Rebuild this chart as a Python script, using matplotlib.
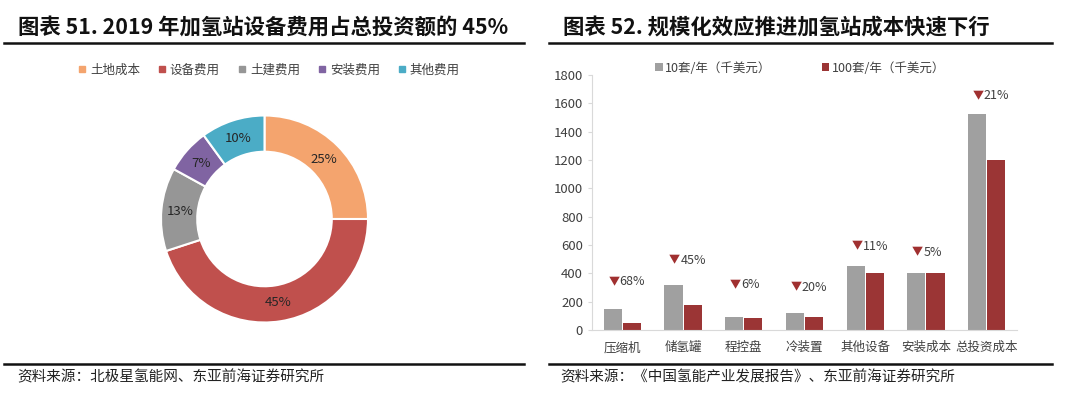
import matplotlib
matplotlib.use('Agg')
import matplotlib.pyplot as plt
import numpy as np
from matplotlib.lines import Line2D

plt.rcParams['font.family'] = ['Noto Sans CJK SC', 'DejaVu Sans']

# left: cost share of a hydrogen station (2019)
pie_labels = ['土地成本', '设备费用', '土建费用', '安装费用', '其他费用']
pie_values = [25, 45, 13, 7, 10]
pie_colors = ['#f4a46e', '#c0504d', '#969696', '#8064a2', '#4bacc6']

# right: cost at 10 vs 100 units/year (k USD)
bar_cats = ['压缩机', '储氢罐', '程控盘', '冷装置', '其他设备', '安装成本', '总投资成本']
cost_10 = [150, 320, 90, 118, 452, 405, 1525]
cost_100 = [48, 178, 85, 95, 400, 405, 1200]
drop_pct = ['68%', '45%', '6%', '20%', '11%', '5%', '21%']
drop_y = [340, 494, 318, 301, 588, 546, 1653]

W, H = 1080, 395
fig = plt.figure(figsize=(W / 100, H / 100), dpi=100)
fig.patch.set_facecolor('white')

def fx(px):
    return px / W

def fy(py):
    return 1 - py / H

# titles, rules, sources
fig.text(fx(18), fy(28), '图表 51. 2019 年加氢站设备费用占总投资额的 45%',
         fontsize=15.4, fontweight='bold', va='center', ha='left', color='#111111')
fig.text(fx(563), fy(28), '图表 52. 规模化效应推进加氢站成本快速下行',
         fontsize=15.4, fontweight='bold', va='center', ha='left', color='#111111')
for x0, x1 in [(4, 524), (549, 1052)]:
    for yy in (43, 364):
        fig.add_artist(Line2D([fx(x0), fx(x1)], [fy(yy), fy(yy)], color='#111111', lw=1.8))
fig.text(fx(17), fy(377), '资料来源：北极星氢能网、东亚前海证券研究所',
         fontsize=10.5, va='center', ha='left', color='#222222')
fig.text(fx(560), fy(377), '资料来源：《中国氢能产业发展报告》、东亚前海证券研究所',
         fontsize=10.5, va='center', ha='left', color='#222222')

# donut
cx, cy, r = 264.5, 219, 103.5
ax1 = fig.add_axes([fx(cx - r), fy(cy + r), (2 * r) / W, (2 * r) / H])
wedges, _ = ax1.pie(pie_values, colors=pie_colors, startangle=90, counterclock=False,
                    radius=1, wedgeprops=dict(width=0.35, edgecolor='white', linewidth=1.5))
for v, w in zip(pie_values, wedges):
    mid = np.deg2rad((w.theta1 + w.theta2) / 2)
    ax1.text(0.815 * np.cos(mid), 0.815 * np.sin(mid), f'{v}%', ha='center', va='center',
             fontsize=9.5, color='#262626')
ax1.set_xlim(-1, 1)
ax1.set_ylim(-1, 1)
ax1.axis('off')

handles = [plt.Line2D([], [], marker='s', ls='', color=c, markersize=5) for c in pie_colors]
fig.legend(handles, pie_labels, loc='center', bbox_to_anchor=(fx(268), fy(70)), ncol=5,
           frameon=False, fontsize=9, handletextpad=0.1, columnspacing=1.3,
           handlelength=1.0, labelcolor='#404040')

# bars
ax2 = fig.add_axes([fx(592), fy(330), fx(1017 - 592), (330 - 75) / H])
x = np.arange(len(bar_cats))
bw = 0.3
ax2.bar(x - bw / 2 - 0.008, cost_10, bw, color='#a0a0a0', label='10套/年（千美元）')
ax2.bar(x + bw / 2 + 0.008, cost_100, bw, color='#9b3535', label='100套/年（千美元）')
for i, (p, yv) in enumerate(zip(drop_pct, drop_y)):
    ax2.annotate('▼', (i, yv), xytext=(-2, 0), textcoords='offset points',
                 ha='right', va='center', fontsize=8, color='#a03030')
    ax2.annotate(p, (i, yv), xytext=(-2, 0), textcoords='offset points',
                 ha='left', va='center', fontsize=9, color='#404040')
ax2.set_xlim(-0.5, len(bar_cats) - 0.5)
ax2.set_ylim(0, 1800)
ax2.set_yticks(range(0, 1801, 200))
ax2.set_xticks(x)
ax2.set_xticklabels(bar_cats, fontsize=9, color='#404040')
ax2.tick_params(axis='y', labelsize=9.5, labelcolor='#404040', length=3, color='#d9d9d9')
ax2.tick_params(axis='x', length=0, pad=8)
for s in ['top', 'right']:
    ax2.spines[s].set_visible(False)
for s in ['left', 'bottom']:
    ax2.spines[s].set_color('#d9d9d9')
ax2.legend(loc='center', bbox_to_anchor=(fx(800), fy(68)), bbox_transform=fig.transFigure,
           ncol=2, frameon=False, fontsize=9, handlelength=0.6, handleheight=0.6,
           handletextpad=0.2, columnspacing=4.0, labelcolor='#404040')

fig.savefig('out.png', dpi=100, facecolor='white')
